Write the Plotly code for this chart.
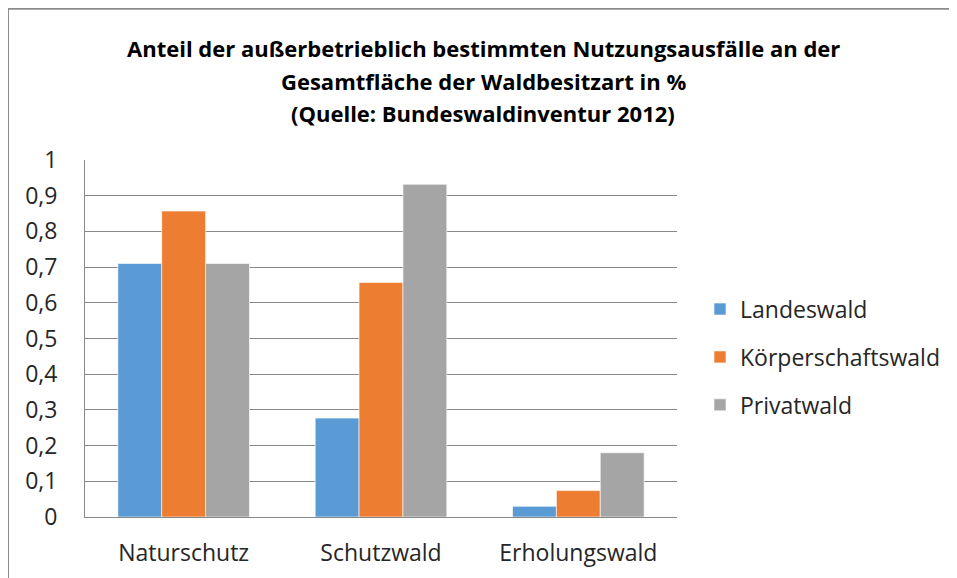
import plotly.graph_objects as go

categories = ["Naturschutz", "Schutzwald", "Erholungswald"]
series_names = ["Landeswald", "Körperschaftswald", "Privatwald"]
landeswald = [0.71, 0.277, 0.03]
koerperschaftswald = [0.857, 0.657, 0.074]
privatwald = [0.71, 0.932, 0.18]
colors = ["#5B9BD5", "#ED7D31", "#A5A5A5"]
title_lines = [
    "Anteil der außerbetrieblich bestimmten Nutzungsausfälle an der",
    "Gesamtfläche der Waldbesitzart in %",
    "(Quelle: Bundeswaldinventur 2012)",
]

OFF = 8  # page body margin
W, H = 957 - OFF, 578 - OFF
# plot area in page pixels
PL, PR, PT, PB = 85, 677, 159.5, 517.3
L, R, T, B = PL - OFF, PR - OFF, PT - OFF, PB - OFF
FONT = "Open Sans"
TXT = "#262626"


def px(x):  # page x -> paper
    return (x - PL) / (PR - PL)


def py(y):  # page y -> paper
    return (PB - y) / (PB - PT)


fig = go.Figure()
for i, (name, vals) in enumerate(zip(series_names, [landeswald, koerperschaftswald, privatwald])):
    fig.add_trace(go.Bar(
        x=categories, y=vals, name=name,
        marker=dict(color=colors[i], line=dict(color="white", width=0.6)),
        legendgroup=name,
    ))

annotations = []
for yy, txt in zip([47, 80, 112], title_lines):
    annotations.append(dict(
        text="<b>" + txt + "</b>", x=px(483), y=py(yy), xref="paper", yref="paper",
        showarrow=False, xanchor="center", yanchor="middle",
        font=dict(family=FONT, size=22, color="#000000"),
    ))

fig.update_layout(
    width=W, height=H,
    margin=dict(l=L, r=W - R, t=T, b=H - B, pad=0, autoexpand=False),
    paper_bgcolor="white", plot_bgcolor="white",
    separators=", ",
    barmode="group", bargap=0.333, bargroupgap=0,
    font=dict(family=FONT, size=23, color=TXT),
    annotations=annotations,
    showlegend=True,
    legend=dict(
        x=px(700), y=py(357), xanchor="left", yanchor="middle",
        font=dict(family=FONT, size=23, color=TXT),
        traceorder="grouped", tracegroupgap=15,
        bgcolor="rgba(0,0,0,0)",
    ),
    shapes=[
        dict(type="line", xref="paper", yref="paper", x0=px(8), x1=px(965), y0=py(8), y1=py(8),
             line=dict(color="#8C8C8C", width=2)),
        dict(type="line", xref="paper", yref="paper", x0=px(8), x1=px(8), y0=py(8), y1=py(590),
             line=dict(color="#8C8C8C", width=2)),
    ],
)
fig.update_yaxes(
    range=[0, 1], dtick=0.1, tick0=0,
    showgrid=True, gridcolor="#888888", gridwidth=1,
    showline=True, linecolor="#888888", linewidth=1,
    zeroline=False, ticks="", ticklabelstandoff=22,
    tickfont=dict(family=FONT, size=23, color=TXT),
    fixedrange=True,
)
fig.update_xaxes(
    showline=True, linecolor="#888888", linewidth=1,
    ticks="", ticklabelstandoff=15,
    tickfont=dict(family=FONT, size=23, color=TXT),
    fixedrange=True,
)

fig.write_html("out.html")
